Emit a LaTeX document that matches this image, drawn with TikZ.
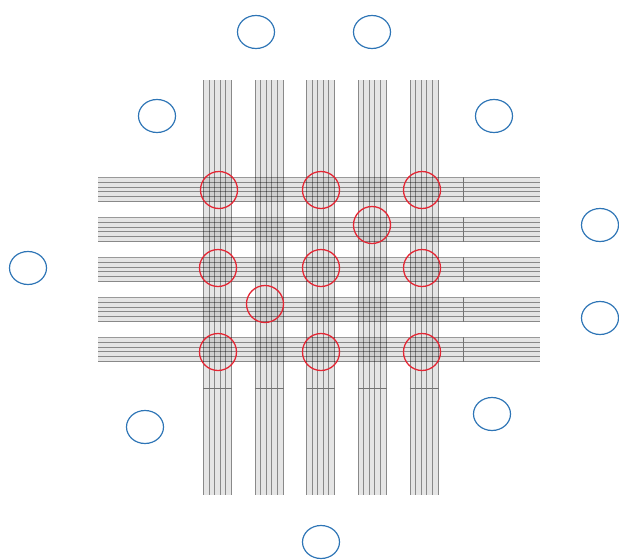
\documentclass[tikz,border=0pt]{standalone}
\usepackage{xcolor}
\usetikzlibrary{shapes.geometric}
\definecolor{myb}{RGB}{46, 117, 182}
\definecolor{myr}{RGB}{228, 38, 52}
\tikzset{
  fibre/.style={draw=black, draw opacity=0.4, line width=0.9pt},
  band/.style={fill=black, fill opacity=0.1, draw=none},
  marker/.style={draw=black!55, line width=1pt},
  hotspot/.style={draw=myr, circle, line width=1.3pt, minimum size=37pt, inner sep=0pt},
  sensor/.style={draw=myb, ellipse, line width=1.2pt, minimum width=37pt, minimum height=33pt, inner sep=0pt}
}

\begin{document}
\begin{tikzpicture}[x=1pt, y=-1pt]
        \useasboundingbox (0,0) rectangle (619,560);
        % bundle backgrounds
        \foreach \c in {217.5, 269, 320.5, 372, 424}
            \fill[band] (\c-14.5,80) rectangle (\c+14.5,495);
        \foreach \r in {189.5, 229.5, 269.5, 309.5, 349.5}
            \fill[band] (98,\r-12) rectangle (540,\r+12);
        % vertical bundles
        \foreach \c in {217.5, 269, 320.5, 372, 424}
        {
            \foreach \d in {-14, -8.4, -2.8, 2.8, 8.4, 14}
                \draw[fibre] (\c+\d,80) -- (\c+\d,495);
            \draw[marker] (\c-14.5,388) -- (\c+14.5,388);
        }
        % horizontal bundles
        \foreach \r in {189.5, 229.5, 269.5, 309.5, 349.5}
        {
            \foreach \d in {-12, -7.2, -2.4, 2.4, 7.2, 12}
                \draw[fibre] (98,\r+\d) -- (540,\r+\d);
            \draw[marker] (463,\r-12.5) -- (463,\r+12.5);
        }
        % hot spots
        \foreach \i/\x/\y in {1/219/190, 2/321/190, 3/422/190, 4/372/225, 5/218/268, 6/321/268, 7/422/268, 8/265/304, 9/218/352, 10/321/352, 11/422/352}
        {
            \node[hotspot] (h\i) at (\x,\y) {};
        }
        % sensors
        \foreach \i/\x/\y in {1/256/32, 2/372/32, 3/157/116, 4/494/116, 5/600/225, 6/28/268, 7/600/318, 8/145/427, 9/492/414, 10/321/542}
        {
            \node[sensor] (s\i) at (\x,\y) {};
        }
    \end{tikzpicture}
\end{document}
